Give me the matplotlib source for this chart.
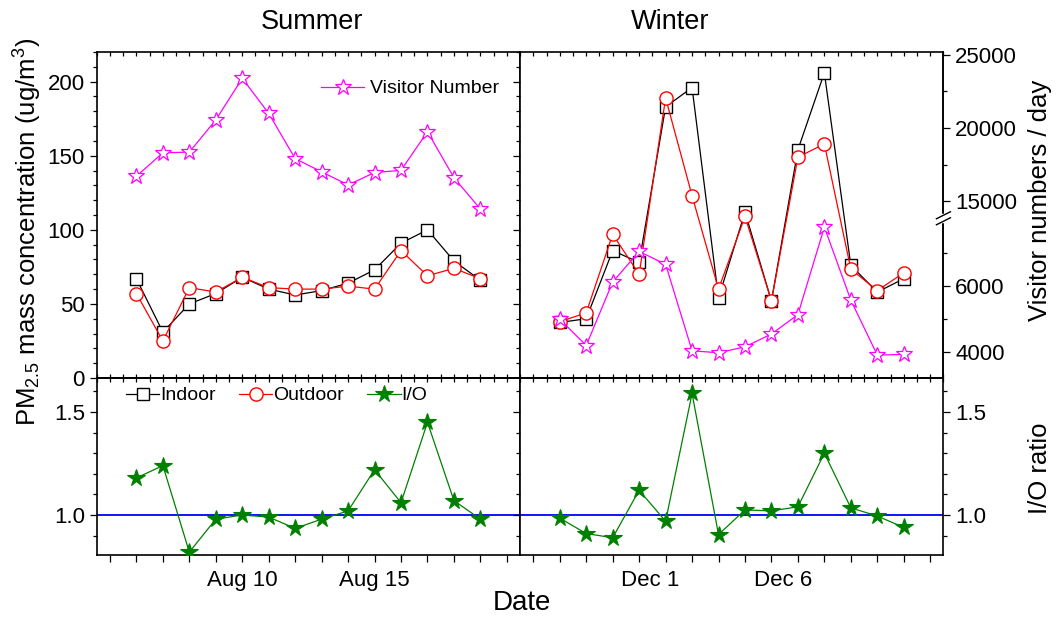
import datetime as dt
import numpy as np
import matplotlib
matplotlib.use("Agg")
import matplotlib.pyplot as plt
import matplotlib.dates as mdates
from matplotlib.ticker import FixedLocator, MultipleLocator, FuncFormatter, NullLocator
from matplotlib.transforms import ScaledTranslation
from matplotlib.lines import Line2D

plt.rcParams["font.family"] = ["Liberation Sans", "DejaVu Sans"]
plt.rcParams["mathtext.fontset"] = "custom"
plt.rcParams["mathtext.rm"] = "Liberation Sans"
plt.rcParams["mathtext.it"] = "Liberation Sans:italic"

# ---------------- data ----------------
summer_days = ["2012-08-06", "2012-08-07", "2012-08-08", "2012-08-09", "2012-08-10",
               "2012-08-11", "2012-08-12", "2012-08-13", "2012-08-14", "2012-08-15",
               "2012-08-16", "2012-08-17", "2012-08-18", "2012-08-19"]
winter_days = ["2012-11-27", "2012-11-28", "2012-11-29", "2012-11-30", "2012-12-01",
               "2012-12-02", "2012-12-03", "2012-12-04", "2012-12-05", "2012-12-06",
               "2012-12-07", "2012-12-08", "2012-12-09", "2012-12-10"]

summer_indoor = [67, 31, 50, 57, 68, 60, 56, 59, 64, 73, 91, 100, 79, 66]
summer_outdoor = [57, 25, 61, 58, 68, 61, 60, 60, 62, 60, 86, 69, 74, 67]
summer_io = [1.18, 1.24, 0.82, 0.98, 1.00, 0.99, 0.935, 0.98, 1.02, 1.22, 1.06, 1.45, 1.07, 0.98]
summer_visitors = [16700, 18300, 18350, 20550, 23400, 21000, 17900, 17000, 16100, 16950,
                   17100, 19750, 16600, 14450]

winter_indoor = [37.5, 40, 86, 78, 183, 196, 54, 112, 52, 154, 206, 76, 58, 67]
winter_outdoor = [38, 44, 97, 70, 189, 123, 60, 109, 52, 149, 158, 73.5, 59, 71]
winter_io = [0.985, 0.91, 0.89, 1.12, 0.97, 1.59, 0.905, 1.025, 1.02, 1.04, 1.30, 1.035, 0.995, 0.94]
winter_visitors = [5000, 4200, 6130, 7060, 6670, 4040, 3980, 4160, 4550, 5140, 7800, 5580, 3910, 3930]

pm_ticks = [0, 50, 100, 150, 200]
io_ticks = [1.0, 1.5]
visitor_ticks = [4000, 6000, 15000, 20000, 25000]
visitor_minor = [5000, 7000, 17500, 22500]

summer_dates = [dt.datetime.strptime(d, "%Y-%m-%d") for d in summer_days]
winter_dates = [dt.datetime.strptime(d, "%Y-%m-%d") for d in winter_days]

# ---------------- broken visitor scale ----------------
# lower segment (winter values) and upper segment (summer values) share one axis
_XP = [-1e5, 3212, 8061, 13836, 25205, 2e5]
_FP = [-3406.0, 0.0, 159.5, 160.0, 326.0, 2878.0]


def vis_fwd(v):
    return np.interp(np.asarray(v, float), _XP, _FP)


def vis_inv(p):
    return np.interp(np.asarray(p, float), _FP, _XP)


# ---------------- figure ----------------
fig = plt.figure(figsize=(10.56, 6.19), dpi=100)
L, W = 0.0916, 0.4009
top_b, top_h = 0.3893, 0.5267
bot_b, bot_h = 0.1034, 0.2859

ax_st = fig.add_axes([L, top_b, W, top_h])
ax_wt = fig.add_axes([L + W, top_b, W, top_h])
ax_sb = fig.add_axes([L, bot_b, W, bot_h])
ax_wb = fig.add_axes([L + W, bot_b, W, bot_h])

s_lim = (dt.datetime(2012, 8, 4, 12), dt.datetime(2012, 8, 20, 12))
w_lim = (dt.datetime(2012, 11, 25, 12), dt.datetime(2012, 12, 11, 12))

lw = 0.9
sq = dict(marker="s", ms=8, mfc="white", mec="black", mew=1.0, color="black", lw=lw)
ci = dict(marker="o", ms=9.5, mfc="white", mec="red", mew=1.0, color="red", lw=lw)
st = dict(marker="*", ms=12, mfc="white", mec="magenta", mew=0.9, color="magenta", lw=lw)
gs = dict(marker="*", ms=13, mfc="green", mec="green", mew=0.8, color="green", lw=lw)

for ax in (ax_st, ax_wt, ax_sb, ax_wb):
    for sp in ax.spines.values():
        sp.set_linewidth(1.2)

# PM panels
ax_st.plot(summer_dates, summer_indoor, zorder=3, **sq)
ax_st.plot(summer_dates, summer_outdoor, zorder=4, **ci)
ax_wt.plot(winter_dates, winter_indoor, zorder=3, **sq)
ax_wt.plot(winter_dates, winter_outdoor, zorder=4, **ci)

for ax in (ax_st, ax_wt):
    ax.set_ylim(0, 220)
    ax.yaxis.set_major_locator(FixedLocator(pm_ticks))
    ax.yaxis.set_minor_locator(MultipleLocator(10))
    ax.tick_params(axis="y", which="both", direction="out", left=True, right=True,
                   labelsize=16, width=0.9)
    ax.tick_params(axis="y", which="major", length=5)
    ax.tick_params(axis="y", which="minor", length=3)
    ax.xaxis.set_major_locator(NullLocator())
    ax.xaxis.set_minor_locator(mdates.HourLocator(byhour=[0, 12]))
    ax.tick_params(axis="x", which="both", direction="in", top=True, bottom=True,
                   labelbottom=False, length=3, width=0.9)
ax_wt.tick_params(axis="y", labelleft=False)
ax_st.set_xlim(*s_lim)
ax_wt.set_xlim(*w_lim)

# visitor series on the broken scale
tv_s = ax_st.twinx()
tv_w = ax_wt.twinx()
for tv, dates, vals in ((tv_s, summer_dates, summer_visitors), (tv_w, winter_dates, winter_visitors)):
    tv.set_yscale("function", functions=(vis_fwd, vis_inv))
    tv.plot(dates, vals, zorder=5, **st)
    tv.set_ylim(3212, 25205)
    for sp in tv.spines.values():
        sp.set_visible(False)
tv_s.tick_params(axis="y", which="both", right=False, labelright=False)
tv_s.set_xlim(*s_lim)
tv_w.set_xlim(*w_lim)
tv_w.spines["right"].set_visible(True)
tv_w.spines["right"].set_linewidth(1.2)
tv_w.yaxis.set_major_locator(FixedLocator(visitor_ticks))
tv_w.yaxis.set_minor_locator(FixedLocator(visitor_minor))
tv_w.yaxis.set_major_formatter(FuncFormatter(lambda v, p: f"{v:.0f}"))
tv_w.tick_params(axis="y", which="both", direction="out", labelsize=16, width=0.9)
tv_w.tick_params(axis="y", which="major", length=5)
tv_w.tick_params(axis="y", which="minor", length=3)

# break marks on the visitor axis
yb = float(vis_fwd(8061) + 0.25) / 326.0
dx, dy, gap = 7 / 423.3, 3.5 / 326.0, 3.0 / 326.0
tv_w.plot([1, 1], [yb - gap, yb + gap], color="white", lw=2.5, transform=tv_w.transAxes,
          clip_on=False, zorder=10)
for off in (-gap, gap):
    tv_w.plot([1 - dx, 1 + dx], [yb + off - dy, yb + off + dy], color="black", lw=1.0,
              transform=tv_w.transAxes, clip_on=False, zorder=11)

leg_v = tv_s.legend([Line2D([], [], **st)], ["Visitor Number"], loc="upper right",
                    bbox_to_anchor=(0.95, 0.915), frameon=False, fontsize=14,
                    handlelength=2.2, handletextpad=0.3, borderpad=0, borderaxespad=0)

# I/O panels
for ax, dates, vals, lim in ((ax_sb, summer_dates, summer_io, s_lim),
                             (ax_wb, winter_dates, winter_io, w_lim)):
    ax.axhline(1.0, color="blue", lw=1.3, zorder=2)
    ax.plot(dates, vals, zorder=3, **gs)
    ax.set_xlim(*lim)
    ax.set_ylim(0.806, 1.665)
    ax.yaxis.set_major_locator(FixedLocator(io_ticks))
    ax.yaxis.set_minor_locator(MultipleLocator(0.1))
    ax.yaxis.set_major_formatter(FuncFormatter(lambda v, p: f"{v:.1f}"))
    ax.tick_params(axis="y", which="both", direction="out", left=True, right=True,
                   labelsize=16, width=0.9)
    ax.tick_params(axis="y", which="major", length=5)
    ax.tick_params(axis="y", which="minor", length=3)
    ax.xaxis.set_minor_locator(mdates.DayLocator())
    ax.xaxis.set_major_formatter(mdates.DateFormatter("%b %-d"))
    ax.tick_params(axis="x", which="both", direction="out", bottom=True, top=False,
                   labelsize=16, width=0.9, length=5, pad=6)
    # short inward ticks along the top edge
    sec = ax.secondary_xaxis("top")
    sec.xaxis.set_major_locator(NullLocator())
    sec.xaxis.set_minor_locator(mdates.HourLocator(byhour=[0, 12]))
    sec.tick_params(axis="x", which="both", direction="in", length=3, width=0.9,
                    labeltop=False)
    sec.spines["top"].set_linewidth(1.2)

ax_sb.xaxis.set_major_locator(mdates.DayLocator(bymonthday=[10, 15]))
ax_wb.xaxis.set_major_locator(mdates.DayLocator(bymonthday=[1, 6]))
ax_sb.tick_params(axis="y", labelleft=True, labelright=False)
ax_wb.tick_params(axis="y", labelleft=False, labelright=True)

shift = ScaledTranslation(-15 / 100, 0, fig.dpi_scale_trans)
for lbl in ax_wb.get_xticklabels():
    lbl.set_transform(lbl.get_transform() + shift)

io_handles = [Line2D([], [], **sq), Line2D([], [], **ci), Line2D([], [], **gs)]
ax_sb.legend(io_handles, ["Indoor", "Outdoor", "I/O"], loc="upper left",
             bbox_to_anchor=(0.07, 0.95), ncol=3, frameon=False, fontsize=14,
             handlelength=1.7, handletextpad=0.05, columnspacing=1.2,
             borderpad=0, borderaxespad=0)

# titles and axis labels
fig.text(312 / 1056, 1 - 22 / 619, "Summer", ha="center", va="center", fontsize=19.5)
fig.text(670 / 1056, 1 - 22 / 619, "Winter", ha="center", va="center", fontsize=19.5)
fig.text(522 / 1056, 1 - 603 / 619, "Date", ha="center", va="center", fontsize=20)
fig.text(28 / 1056, 0.625, r"PM$_{\mathregular{2.5}}$ mass concentration (ug/m$^{\mathregular{3}}$)",
         rotation=90, ha="center", va="center", fontsize=18.5)
fig.text(1040 / 1056, 1 - 200 / 619, "Visitor numbers / day", rotation=90,
         ha="center", va="center", fontsize=18.5)
fig.text(1040 / 1056, 1 - 468 / 619, "I/O ratio", rotation=90,
         ha="center", va="center", fontsize=18.5)

fig.savefig("out.png", dpi=100)
